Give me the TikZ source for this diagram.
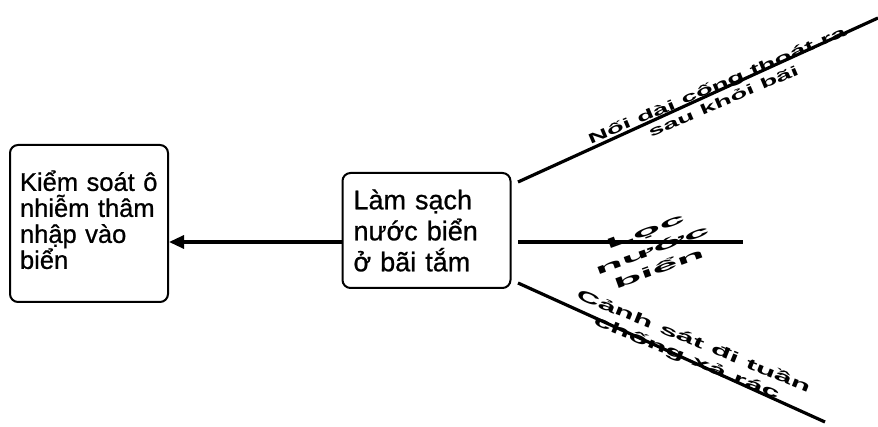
\documentclass[tikz,border=0pt]{standalone}
\usepackage{fontspec}
\setmainfont{Liberation Sans}
\newfontfamily\boxfont[FakeBold=0.8]{Liberation Sans}
\usetikzlibrary{arrows.meta}

\tikzset{
  goalbox/.style={draw, line width=2pt, rounded corners=8pt, align=left,
    inner xsep=10pt, inner ysep=0pt, anchor=center},
  branch/.style={line width=3.2pt, line cap=butt},
  flow/.style={line width=3.2pt, -{Triangle[length=15pt, width=13pt]}},
  branchlabel/.style={transform shape, align=center, inner sep=0pt}
}

\begin{document}
\begin{tikzpicture}[x=1pt, y=-1pt]
  \useasboundingbox (0,0) rectangle (878,427);

  % the two goal boxes
  \node[goalbox, minimum width=158pt, minimum height=157pt, text width=138pt,
        font=\boxfont\fontsize{25.5}{26}\selectfont] (goal) at (89,223.5)
    {Kiểm soát ô\\nhiễm thâm\\nhập vào\\biển\strut};
  \node[goalbox, minimum width=167pt, minimum height=115pt, text width=146pt,
        inner xsep=11pt, font=\boxfont\fontsize{27}{31}\selectfont] (clean) at (426.5,230.5)
    {Làm sạch\\nước biển\\ở bãi tắm};

  % means -> end arrow
  \draw[flow] (clean.west |- 0,242) -- (goal.east |- 0,242);

  % free ends of the three branches
  \coordinate (b1s) at (518,182);
  \coordinate (b1e) at (878,18);
  \coordinate (b2s) at (518,242);
  \coordinate (b2e) at (743,242);
  \coordinate (b3s) at (518,283);
  \coordinate (b3e) at (825,422);

  \draw[branch] (b1s) -- (b1e);
  \draw[branch] (b2s) -- (b2e);
  \draw[branch] (b3s) -- (b3e);

  % slanted, stretched branch labels
  \begin{scope}[shift={(720,93)}, rotate=23, xscale=2.0]
    \node[branchlabel, font=\bfseries\fontsize{14}{17}\selectfont] (l1) at (0,0)
      {Nối dài cống thoát ra\\sau khỏi bãi};
  \end{scope}
  \begin{scope}[shift={(652,250)}, rotate=20, xscale=3.3]
    \node[branchlabel, font=\bfseries\fontsize{14}{20}\selectfont] (l2) at (0,0)
      {Lọc\\nước\\biển};
  \end{scope}
  \begin{scope}[shift={(690,350)}, rotate=-22, xscale=2.15]
    \node[branchlabel, font=\bfseries\fontsize{15}{18}\selectfont] (l3) at (0,0)
      {Cảnh sát đi tuần\\chống xả rác};
  \end{scope}
\end{tikzpicture}
\end{document}
